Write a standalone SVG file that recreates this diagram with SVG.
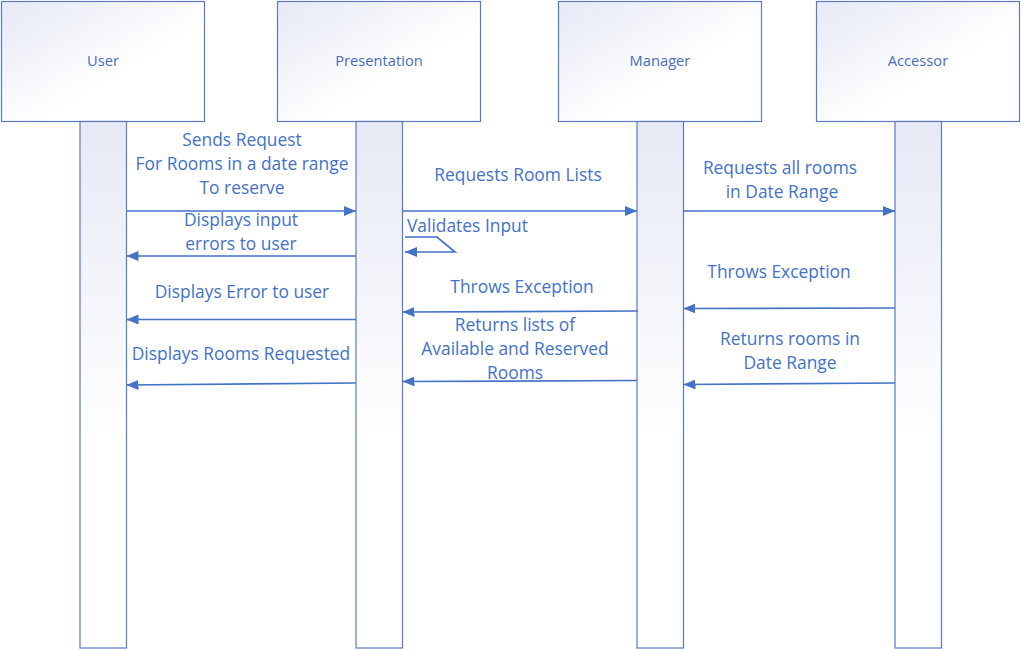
<svg xmlns="http://www.w3.org/2000/svg" width="1021" height="650" viewBox="0 0 1021 650">
<defs>
<linearGradient id="gBox" x1="0" y1="0" x2="1" y2="1">
<stop offset="0" stop-color="#e6e9f5"/>
<stop offset="0.6" stop-color="#ffffff"/>
</linearGradient>
<linearGradient id="gBar" x1="0" y1="0" x2="0" y2="1">
<stop offset="0" stop-color="#e6e9f5"/>
<stop offset="0.6" stop-color="#ffffff"/>
</linearGradient>
<marker id="arr" markerWidth="12" markerHeight="10" refX="12" refY="5" orient="auto" markerUnits="userSpaceOnUse">
<path d="M0,0 L12,5 L0,10 Z" fill="#4472c4"/>
</marker>
<style>
.box{fill:url(#gBox);stroke:#5b7bc0;stroke-width:1.2}
.bar{fill:url(#gBar);stroke:#5b7bc0;stroke-width:1.2}
.nl{font-family:"Open Sans","Noto Sans",sans-serif;font-size:14.7px;fill:#4a6cb5;text-anchor:middle}
.ml{font-family:"Open Sans","Noto Sans",sans-serif;font-size:17.4px;fill:#4472c4;text-anchor:middle}
.msg{stroke:#4472c4;stroke-width:1.7;fill:none;marker-end:url(#arr)}
</style>
</defs>
<rect width="1021" height="650" fill="#ffffff"/>
<g id="user">
<rect class="box" x="1.5" y="1.5" width="203" height="120"/>
<rect class="bar" x="80" y="121.5" width="46.5" height="526.5"/>
<text class="nl" x="103" y="66">User</text>
</g>
<g id="presentation">
<rect class="box" x="277.5" y="1.5" width="203" height="120"/>
<rect class="bar" x="356" y="121.5" width="46.5" height="526.5"/>
<text class="nl" x="379" y="66">Presentation</text>
</g>
<g id="manager">
<rect class="box" x="558.5" y="1.5" width="203" height="120"/>
<rect class="bar" x="637" y="121.5" width="46.5" height="526.5"/>
<text class="nl" x="660" y="66">Manager</text>
</g>
<g id="accessor">
<rect class="box" x="816.5" y="1.5" width="203" height="120"/>
<rect class="bar" x="895" y="121.5" width="46.5" height="526.5"/>
<text class="nl" x="918" y="66">Accessor</text>
</g>
<g id="connectors">
<line class="msg" x1="126.5" y1="211" x2="356" y2="211"/>
<line class="msg" x1="356" y1="256" x2="126.5" y2="256"/>
<line class="msg" x1="356" y1="319.5" x2="126.5" y2="319.5"/>
<line class="msg" x1="356" y1="383" x2="126.5" y2="385"/>
<line class="msg" x1="402.5" y1="211" x2="637" y2="211"/>
<path class="msg" d="M405,237 L437,237 L455,252 L405,252"/>
<line class="msg" x1="638" y1="311" x2="402.5" y2="312"/>
<line class="msg" x1="637" y1="380.5" x2="402.5" y2="381.5"/>
<line class="msg" x1="683.5" y1="211" x2="895" y2="211"/>
<line class="msg" x1="895" y1="308" x2="683.5" y2="308.5"/>
<line class="msg" x1="895" y1="383" x2="683.5" y2="384.5"/>
</g>
<g id="labels">
<text class="ml" x="242" y="146">Sends Request</text>
<text class="ml" x="242" y="170">For Rooms in a date range</text>
<text class="ml" x="242" y="194">To reserve</text>
<text class="ml" x="241" y="226">Displays input</text>
<text class="ml" x="241" y="250">errors to user</text>
<text class="ml" x="242" y="298">Displays Error to user</text>
<text class="ml" x="241" y="360">Displays Rooms Requested</text>
<text class="ml" x="518" y="181">Requests Room Lists</text>
<text class="ml" x="407" y="232" style="text-anchor:start">Validates Input</text>
<text class="ml" x="522" y="293">Throws Exception</text>
<text class="ml" x="515" y="331">Returns lists of</text>
<text class="ml" x="515" y="355">Available and Reserved</text>
<text class="ml" x="515" y="379">Rooms</text>
<text class="ml" x="780" y="174">Requests all rooms</text>
<text class="ml" x="782" y="198">in Date Range</text>
<text class="ml" x="779" y="278">Throws Exception</text>
<text class="ml" x="790" y="345">Returns rooms in</text>
<text class="ml" x="790" y="369">Date Range</text>
</g>
</svg>
